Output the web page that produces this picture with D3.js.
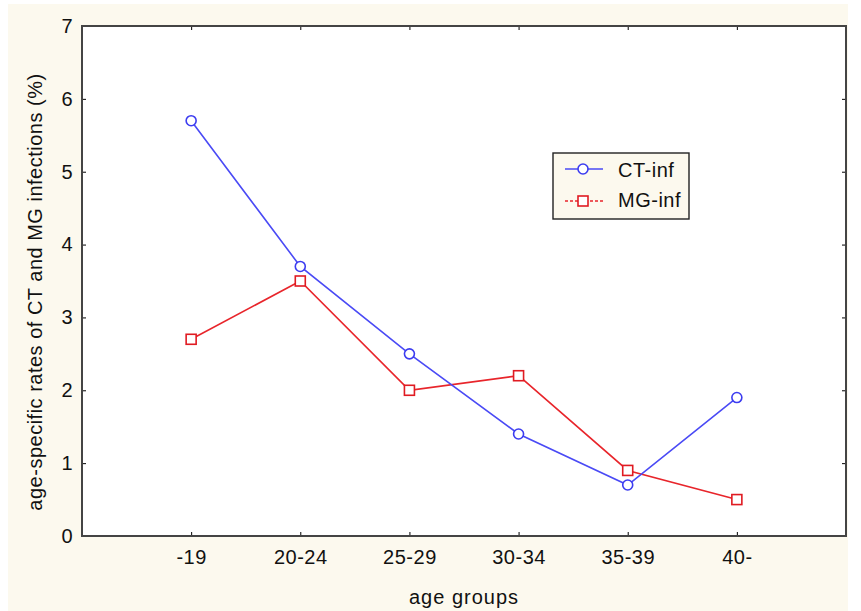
<!DOCTYPE html>
<html>
<head>
<meta charset="utf-8">
<script src="https://cdn.jsdelivr.net/npm/d3@7"></script>
<style>
  body { margin: 0; background: #fff; }
  text { font-family: "Liberation Sans", Arial, sans-serif; fill: #111; letter-spacing: 0.5px; }
</style>
</head>
<body>
<div id="chart"></div>
<script>
const ageGroups = ['-19', '20-24', '25-29', '30-34', '35-39', '40-'];
const ctInf = [5.7, 3.7, 2.5, 1.4, 0.7, 1.9];
const mgInf = [2.7, 3.5, 2.0, 2.2, 0.9, 0.5];
const yTicks = [0, 1, 2, 3, 4, 5, 6, 7];

const width = 861;
const height = 611;
const plot = { left: 82, right: 846, top: 26, bottom: 536 };

const svg = d3.select('#chart')
  .append('svg')
  .attr('width', width)
  .attr('height', height);

svg.append('rect')
  .attr('x', 8).attr('y', 4)
  .attr('width', 840).attr('height', 607)
  .attr('fill', '#fcf9ee');

svg.append('rect')
  .attr('x', plot.left).attr('y', plot.top)
  .attr('width', plot.right - plot.left)
  .attr('height', plot.bottom - plot.top)
  .attr('fill', '#fff');

// categories sit at 1..6 on a 0..7 axis
const xScale = d3.scaleLinear().domain([0, 7]).range([plot.left, plot.right]);
const xPos = (i) => xScale(i + 1);
const yScale = d3.scaleLinear().domain([0, 7]).range([plot.bottom, plot.top]);

// axes with inward ticks
svg.append('g')
  .attr('transform', `translate(${plot.left},0)`)
  .call(d3.axisLeft(yScale).tickValues(yTicks).tickSize(-4).tickPadding(9).tickFormat(d3.format('d')))
  .call(g => g.select('.domain').remove())
  .call(g => g.selectAll('text').attr('font-size', 20).style('fill', '#111'));

svg.append('g')
  .attr('transform', `translate(${plot.right},0)`)
  .call(d3.axisRight(yScale).tickValues(yTicks).tickSize(-4).tickFormat(''))
  .call(g => g.select('.domain').remove());

const xAxis = d3.axisBottom(xScale)
  .tickValues(ageGroups.map((d, i) => i + 1))
  .tickSize(-4).tickPadding(14)
  .tickFormat((d) => ageGroups[d - 1]);

svg.append('g')
  .attr('transform', `translate(0,${plot.bottom})`)
  .call(xAxis)
  .call(g => g.select('.domain').remove())
  .call(g => g.selectAll('text').attr('font-size', 20).style('fill', '#111'));

svg.append('g')
  .attr('transform', `translate(0,${plot.top})`)
  .call(d3.axisTop(xScale).tickValues(ageGroups.map((d, i) => i + 1)).tickSize(-4).tickFormat(''))
  .call(g => g.select('.domain').remove());

// frame
svg.append('rect')
  .attr('x', plot.left).attr('y', plot.top)
  .attr('width', plot.right - plot.left)
  .attr('height', plot.bottom - plot.top)
  .attr('fill', 'none')
  .attr('stroke', '#444')
  .attr('stroke-width', 2);

// axis titles
svg.append('text')
  .attr('x', xScale(3.5)).attr('y', 604)
  .attr('text-anchor', 'middle')
  .attr('font-size', 20)
  .style('letter-spacing', '1px')
  .text('age groups');

svg.append('text')
  .attr('transform', `translate(42,${(plot.top + plot.bottom) / 2 + 11}) rotate(-90)`)
  .attr('text-anchor', 'middle')
  .attr('font-size', 20)
  .text('age-specific rates of CT and MG infections (%)');

const line = d3.line().x((d, i) => xPos(i)).y((d) => yScale(d));

svg.append('path')
  .datum(mgInf)
  .attr('d', line)
  .attr('fill', 'none')
  .attr('stroke', '#e8252b')
  .attr('stroke-width', 1.6);

svg.append('path')
  .datum(ctInf)
  .attr('d', line)
  .attr('fill', 'none')
  .attr('stroke', '#4a4af5')
  .attr('stroke-width', 1.6);

svg.append('g')
  .selectAll('rect')
  .data(mgInf)
  .join('rect')
  .attr('x', (d, i) => xPos(i) - 5)
  .attr('y', (d) => yScale(d) - 5)
  .attr('width', 10).attr('height', 10)
  .attr('fill', '#fff')
  .attr('stroke', '#e01b22')
  .attr('stroke-width', 1.6);

svg.append('g')
  .selectAll('circle')
  .data(ctInf)
  .join('circle')
  .attr('cx', (d, i) => xPos(i))
  .attr('cy', (d) => yScale(d))
  .attr('r', 5)
  .attr('fill', '#fff')
  .attr('stroke', '#3c3cf0')
  .attr('stroke-width', 1.6);

// legend
const legend = svg.append('g').attr('transform', 'translate(553,153)');
legend.append('rect')
  .attr('width', 136).attr('height', 66)
  .attr('fill', '#fcf9ee')
  .attr('stroke', '#222')
  .attr('stroke-width', 1.4);

legend.append('line')
  .attr('x1', 12).attr('x2', 50).attr('y1', 16).attr('y2', 16)
  .attr('stroke', '#4a4af5').attr('stroke-width', 1.6);
legend.append('circle')
  .attr('cx', 30).attr('cy', 16).attr('r', 5)
  .attr('fill', '#fff').attr('stroke', '#3c3cf0').attr('stroke-width', 1.6);
legend.append('text')
  .attr('x', 65).attr('y', 24).attr('font-size', 20).text('CT-inf');

legend.append('line')
  .attr('x1', 12).attr('x2', 50).attr('y1', 48).attr('y2', 48)
  .attr('stroke', '#e8252b').attr('stroke-width', 1.4)
  .attr('stroke-dasharray', '3,2');
legend.append('rect')
  .attr('x', 25).attr('y', 43).attr('width', 10).attr('height', 10)
  .attr('fill', '#fff').attr('stroke', '#e01b22').attr('stroke-width', 1.6);
legend.append('text')
  .attr('x', 65).attr('y', 54).attr('font-size', 20).text('MG-inf');
</script>
</body>
</html>
